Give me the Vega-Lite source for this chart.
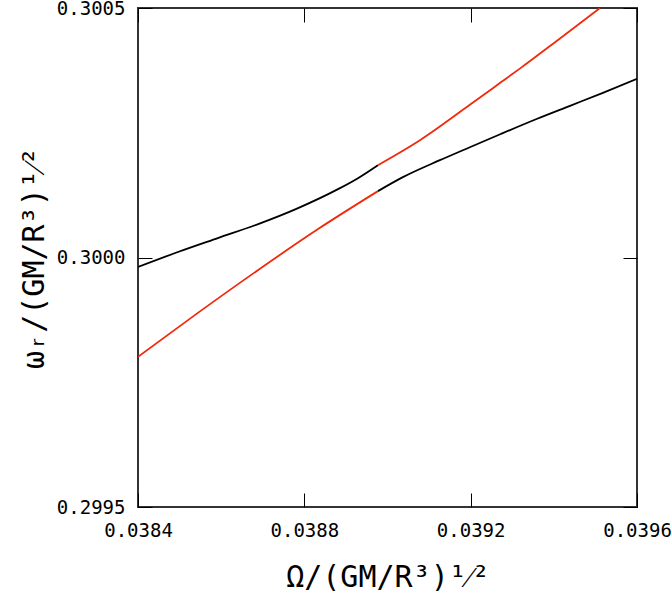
{
  "$schema": "https://vega.github.io/schema/vega-lite/v6.json",
  "width": 499,
  "height": 499,
  "autosize": {"type": "none"},
  "padding": {"left": 138, "top": 8, "right": 35, "bottom": 90},
  "background": "white",
  "config": {
    "view": {"stroke": "#333333", "strokeWidth": 2},
    "axis": {
      "grid": false,
      "domain": false,
      "tickColor": "#000000",
      "tickWidth": 1,
      "tickSize": -14,
      "labelFlush": false,
      "labelFont": "DejaVu Sans Mono",
      "labelFontSize": 19,
      "labelColor": "#000000",
      "titleFont": "DejaVu Sans Mono",
      "titleFontSize": 30,
      "titleFontWeight": "normal",
      "titleColor": "#000000"
    }
  },
  "data": {
    "values": [
      {"x": 0.038400, "y": 0.299981, "seg": "ub", "c": "black"},
      {"x": 0.038496, "y": 0.300011, "seg": "ub", "c": "black"},
      {"x": 0.038592, "y": 0.300039, "seg": "ub", "c": "black"},
      {"x": 0.038689, "y": 0.300067, "seg": "ub", "c": "black"},
      {"x": 0.038785, "y": 0.300099, "seg": "ub", "c": "black"},
      {"x": 0.038881, "y": 0.300137, "seg": "ub", "c": "black"},
      {"x": 0.038929, "y": 0.300159, "seg": "ub", "c": "black"},
      {"x": 0.038977, "y": 0.300185, "seg": "ub", "c": "black"},
      {"x": 0.038977, "y": 0.300185, "seg": "ur", "c": "red"},
      {"x": 0.039078, "y": 0.300235, "seg": "ur", "c": "red"},
      {"x": 0.039198, "y": 0.300306, "seg": "ur", "c": "red"},
      {"x": 0.039271, "y": 0.300350, "seg": "ur", "c": "red"},
      {"x": 0.039319, "y": 0.300379, "seg": "ur", "c": "red"},
      {"x": 0.039410, "y": 0.300436, "seg": "ur", "c": "red"},
      {"x": 0.039511, "y": 0.300500, "seg": "ur", "c": "red"},
      {"x": 0.038400, "y": 0.299801, "seg": "lr", "c": "red"},
      {"x": 0.038544, "y": 0.299889, "seg": "lr", "c": "red"},
      {"x": 0.038689, "y": 0.299975, "seg": "lr", "c": "red"},
      {"x": 0.038833, "y": 0.300057, "seg": "lr", "c": "red"},
      {"x": 0.038977, "y": 0.300133, "seg": "lr", "c": "red"},
      {"x": 0.038977, "y": 0.300133, "seg": "lb", "c": "black"},
      {"x": 0.039037, "y": 0.300161, "seg": "lb", "c": "black"},
      {"x": 0.039126, "y": 0.300195, "seg": "lb", "c": "black"},
      {"x": 0.039198, "y": 0.300221, "seg": "lb", "c": "black"},
      {"x": 0.039271, "y": 0.300247, "seg": "lb", "c": "black"},
      {"x": 0.039360, "y": 0.300278, "seg": "lb", "c": "black"},
      {"x": 0.039439, "y": 0.300304, "seg": "lb", "c": "black"},
      {"x": 0.039518, "y": 0.300330, "seg": "lb", "c": "black"},
      {"x": 0.039600, "y": 0.300358, "seg": "lb", "c": "black"}
    ]
  },
  "layer": [
    {
      "mark": {"type": "line", "strokeWidth": 1.8, "clip": true, "interpolate": "monotone"},
      "encoding": {
        "x": {
          "field": "x", "type": "quantitative",
          "scale": {"domain": [0.0384, 0.0396], "nice": false, "zero": false},
          "axis": {"orient": "bottom", "values": [0.0384, 0.0388, 0.0392, 0.0396], "format": ".4f", "labelPadding": 28, "title": "Ω/(GM/R³)¹⁄²", "titlePadding": 22}
        },
        "y": {
          "field": "y", "type": "quantitative",
          "scale": {"domain": [0.2995, 0.3005], "nice": false, "zero": false},
          "axis": {"orient": "left", "values": [0.2995, 0.3, 0.3005], "format": ".4f", "labelPadding": 27, "title": "ωᵣ/(GM/R³)¹⁄²", "titlePadding": 7}
        },
        "color": {"field": "c", "type": "nominal", "scale": {"domain": ["black", "red"], "range": ["#000000", "#f02a0a"]}, "legend": null},
        "detail": {"field": "seg"}
      }
    },
    {
      "mark": {"type": "point", "opacity": 0},
      "encoding": {
        "x": {"field": "x", "type": "quantitative", "axis": {"orient": "top", "values": [0.0384, 0.0388, 0.0392, 0.0396], "labels": false, "title": null}},
        "y": {"field": "y", "type": "quantitative", "axis": {"orient": "right", "values": [0.2995, 0.3, 0.3005], "labels": false, "title": null}}
      }
    }
  ],
  "resolve": {"axis": {"x": "independent", "y": "independent"}}
}
